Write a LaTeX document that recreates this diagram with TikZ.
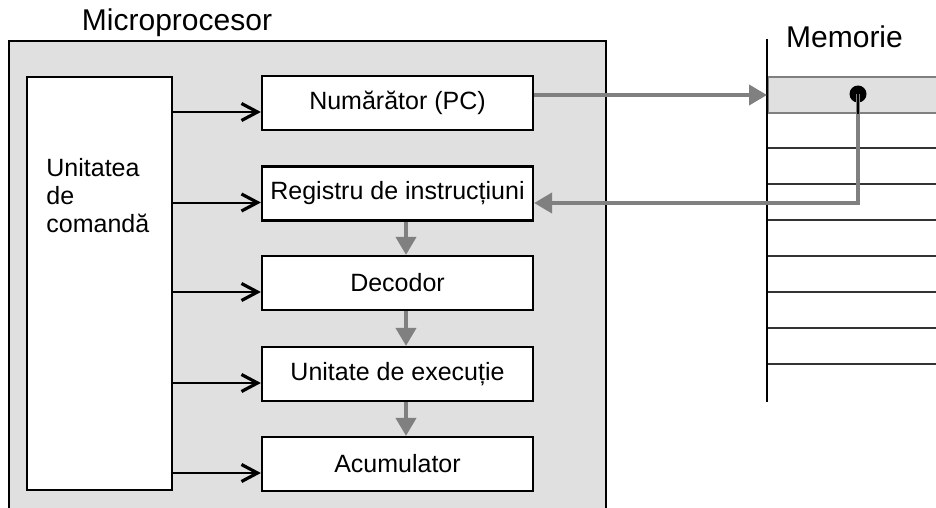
\documentclass[tikz,border=0pt]{standalone}
\usepackage{fontspec}
\setmainfont{Liberation Sans}
\usetikzlibrary{arrows.meta,positioning}
\definecolor{cpufill}{HTML}{E0E0E0}
\definecolor{busgray}{HTML}{808080}

\begin{document}
\begin{tikzpicture}[
  x=0.5pt,y=-0.5pt,
  unit/.style={draw,line width=1.1pt,fill=white,minimum width=135.5pt,
    minimum height=27pt,inner sep=0pt,font=\fontsize{12.5}{14}\selectfont},
  ctrl/.style={line width=1pt,-{Straight Barb[length=8pt,width=8.5pt,line width=1.6pt]}},
  bus/.style={draw=busgray,line width=2pt},
  busarrow/.style={bus,-{Triangle[length=9pt,width=10pt]}},
  title/.style={font=\fontsize{15}{18}\selectfont,anchor=base},
  cellline/.style={black!80,line width=0.75pt}
]
\clip (0,0) rectangle (936,508);
\node[title] (cputitle) at (177,31) {Microprocesor};
\node[draw,line width=1.1pt,fill=cpufill,anchor=north west,inner sep=0pt,
  minimum width=298.5pt,minimum height=240pt] (cpu) at (8,40) {};
\node[draw,line width=1.1pt,fill=white,inner sep=0pt,
  minimum width=72.5pt,minimum height=206.5pt] (cu) at (99.5,283.5) {};
\node[anchor=north west,align=left,inner sep=0pt,
  font=\fontsize{12.5}{14}\selectfont] (cutext) at (46,158) {Unitatea\\de\\comandă};
\node[unit] (pc) at (397.5,103) {Numărător (PC)};
\node[unit] (ir) at (397.5,193.5) {Registru de instrucțiuni};
\node[unit] (dec) at (397.5,283) {Decodor};
\node[unit] (exe) at (397.5,374) {Unitate de execuție};
\node[unit] (acc) at (397.5,464) {Acumulator};
\foreach \b in {pc,ir,dec,exe,acc} {
  \coordinate (\b-in) at ([yshift=-4.5pt]\b.west);
  \draw[ctrl] (cu.east |- \b-in) -- (\b-in);
}
\foreach \x/\y in {ir/dec,dec/exe,exe/acc} {\draw[busarrow] ([xshift=4.25pt]\x.south) -- ([xshift=4.25pt]\y.north);}
% memory cells
\node[title] (memtitle) at (844.5,48) {Memorie};
\node[fill=cpufill,draw=busgray,line width=1pt,anchor=north west,inner sep=0pt,
  minimum width=90pt,minimum height=18pt] (cellrow) at (767,76) {};
\foreach \y in {148,184,...,364} {\draw[cellline] (767,\y) -- (945,\y);}
\coordinate (memtop) at (767,39);
\coordinate (membot) at (767,402);
\draw[line width=1pt] (memtop) -- (membot);
\node[circle,fill,inner sep=0pt,minimum size=8.5pt] (cell) at (858,94) {};
\coordinate (ir-out) at ([yshift=-4.75pt]ir.east);
\draw[busarrow] (cell.center) |- (ir-out);
\draw[line width=1.25pt] (cell.center) -- (cell |- cellrow.south);
\draw[busarrow] (pc.east |- cellrow.west) -- (cellrow.west);
\end{tikzpicture}
\end{document}
